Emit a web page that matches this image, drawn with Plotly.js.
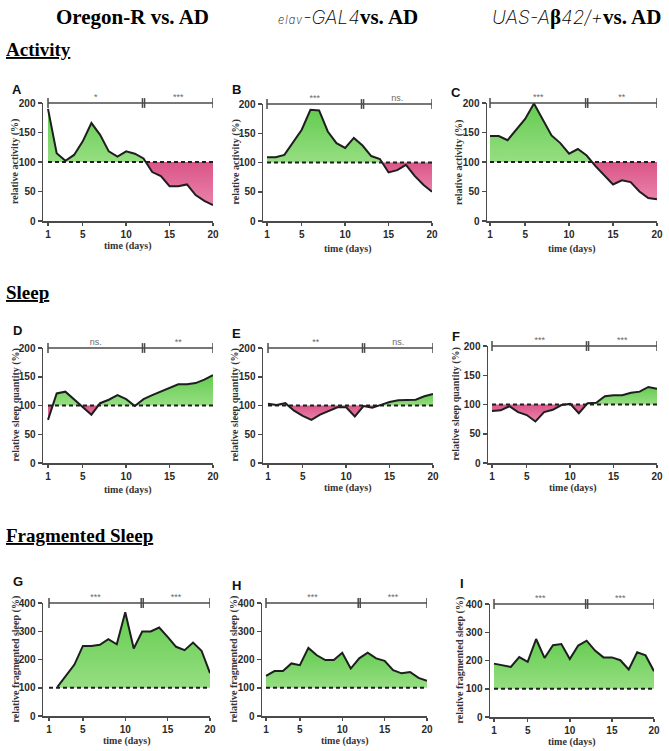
<!DOCTYPE html>
<html>
<head>
<meta charset="utf-8">
<script src="https://cdn.plot.ly/plotly-3.0.1.min.js"></script>
<style>
  body { margin: 0; background: #fff; }
  #fig { width: 669px; height: 751px; }
</style>
</head>
<body>
<div id="fig"></div>
<script>
// days of recording
var days = [1, 2, 3, 4, 5, 6, 7, 8, 9, 10, 11, 12, 13, 14, 15, 16, 17, 18, 19, 20];

// relative activity (%) vs. AD
var actOregon = [190, 115, 102, 112, 135, 166, 146, 118, 109, 118, 114, 106, 83, 76, 59, 59, 62, 44, 34, 27];
var actElav   = [109, 109, 113, 134, 156, 190, 189, 153, 133, 125, 142, 129, 111, 106, 83, 87, 96, 77, 62, 50];
var actUas    = [144, 144, 137, 156, 173, 199, 172, 145, 132, 114, 122, 111, 93, 77, 62, 69, 66, 50, 39, 37];

// relative sleep quantity (%)
var sleepOregon = [75, 121, 124, 111, 97, 84, 104, 110, 118, 111, 99, 111, 118, 124, 130, 137, 137, 139, 145, 153];
var sleepElav   = [103, 101, 104, 91, 82, 75, 84, 90, 97, 97, 81, 99, 96, 101, 106, 109, 110, 110, 116, 120];
var sleepUas    = [89, 90, 97, 87, 82, 71, 87, 91, 99, 101, 85, 102, 103, 114, 116, 116, 120, 122, 130, 127];

// relative fragmented sleep (%), no point on day 1 for Oregon-R
var fragOregon = [null, 103, 142, 182, 248, 248, 252, 272, 254, 367, 239, 299, 299, 313, 280, 245, 233, 260, 231, 152];
var fragElav   = [142, 159, 159, 186, 180, 241, 215, 198, 198, 224, 168, 204, 224, 204, 195, 162, 151, 156, 135, 125];
var fragUas    = [189, 183, 177, 212, 195, 276, 209, 254, 258, 205, 253, 270, 235, 211, 211, 201, 168, 229, 218, 162];

// significance, first and second period
var periods = [[1, 12], [12, 20]];
var sigA = ['*', '***'];
var sigB = ['***', 'ns.'];
var sigC = ['***', '**'];
var sigD = ['ns.', '**'];
var sigE = ['**', 'ns.'];
var sigF = ['***', '***'];
var sigG = ['***', '***'];
var sigH = ['***', '***'];
var sigI = ['***', '***'];

var BASE = 100;
var W = 669, H = 751;
function px(x) { return x / W; }
function py(y) { return 1 - y / H; }
function ax(n) { return n === 1 ? '' : String(n); }

// box: y-axis px, day 1 px, day 20 px, top px, bottom px
var panels = [
  {letter: 'A', vals: actOregon, sig: sigA, ymax: 200, ytitle: 'relative activity (%)', box: [43, 48, 213, 103, 221], lab: [17, 89], tx: 25, ty: 28},
  {letter: 'B', vals: actElav, sig: sigB, ymax: 200, ytitle: 'relative activity (%)', box: [263, 267, 432, 104, 221], lab: [236, 89], tx: 28, ty: 28},
  {letter: 'C', vals: actUas, sig: sigC, ymax: 200, ytitle: 'relative activity (%)', box: [487, 490, 657, 103, 221], lab: [456, 92], tx: 28, ty: 28},
  {letter: 'D', vals: sleepOregon, sig: sigD, ymax: 200, ytitle: 'relative sleep quantity (%)', box: [43, 48, 213, 348, 463], lab: [17, 330], tx: 27, ty: 28},
  {letter: 'E', vals: sleepElav, sig: sigE, ymax: 200, ytitle: 'relative sleep quantity (%)', box: [263, 268, 433, 348, 463], lab: [236, 333], tx: 25, ty: 29},
  {letter: 'F', vals: sleepUas, sig: sigF, ymax: 200, ytitle: 'relative sleep quantity (%)', box: [488, 492, 657, 346, 463], lab: [456, 336], tx: 25, ty: 32},
  {letter: 'G', vals: fragOregon, sig: sigG, ymax: 400, ytitle: 'relative fragmented sleep (%)', box: [43, 49, 210, 603, 716], lab: [18, 581], tx: 25, ty: 28},
  {letter: 'H', vals: fragElav, sig: sigH, ymax: 400, ytitle: 'relative fragmented sleep (%)', box: [262, 266, 427, 603, 716], lab: [236, 585], tx: 25, ty: 29},
  {letter: 'I', vals: fragUas, sig: sigI, ymax: 400, ytitle: 'relative fragmented sleep (%)', box: [490, 494, 654, 604, 717], lab: [462, 583], tx: 25, ty: 31}
];

// add the crossing points with the 100 % line so fills switch colour there
function splitAtBase(xs, ys, base) {
  var ox = [], oy = [];
  var pts = [];
  xs.forEach(function (x, k) { if (ys[k] !== null) pts.push([x, ys[k]]); });
  for (var k = 0; k < pts.length; k++) {
    ox.push(pts[k][0]); oy.push(pts[k][1]);
    if (k < pts.length - 1) {
      var a = pts[k][1] - base, b = pts[k + 1][1] - base;
      if (a * b < 0) {
        var t = a / (a - b);
        ox.push(pts[k][0] + t * (pts[k + 1][0] - pts[k][0]));
        oy.push(base);
      }
    }
  }
  return {x: ox, y: oy};
}

var tickFont = {family: 'Liberation Sans, Arial', size: 10, color: '#2a2a2a', weight: 'bold'};
var lineCol = '#4a4a4a';

var data = [];
var layout = {
  width: W, height: H,
  margin: {l: 0, r: 0, t: 0, b: 0},
  showlegend: false,
  paper_bgcolor: '#fff',
  plot_bgcolor: 'rgba(0,0,0,0)',
  annotations: [],
  shapes: []
};

panels.forEach(function (p, i) {
  var n = i + 1, nb = i + 10;
  var xa = 'x' + ax(n), ya = 'y' + ax(n), yb = 'y' + nb;
  var b = p.box;
  var ppd = (b[2] - b[1]) / 19;

  layout['xaxis' + ax(n)] = {
    domain: [px(b[0]), px(b[2])],
    range: [1 - (b[1] - b[0]) / ppd, 20],
    anchor: ya,
    tickvals: [1, 5, 10, 15, 20],
    ticks: 'outside', ticklen: 3, tickwidth: 1.5, tickcolor: lineCol,
    showline: true, linewidth: 1.5, linecolor: lineCol,
    showgrid: false, zeroline: false,
    tickfont: tickFont
  };
  var yt = p.ymax === 200 ? [0, 50, 100, 150, 200] : [0, 100, 200, 300, 400];
  layout['yaxis' + ax(n)] = {
    domain: [py(b[4]), py(b[3])],
    range: [0, p.ymax],
    anchor: xa,
    tickvals: yt,
    ticks: 'outside', ticklen: 4, tickwidth: 1.5, tickcolor: lineCol,
    showline: true, linewidth: 1.5, linecolor: lineCol,
    showgrid: false, zeroline: false,
    tickfont: tickFont
  };
  // strip above the panel for the significance bracket (units = px)
  layout['yaxis' + nb] = {
    domain: [py(b[3] + 5), py(b[3] - 15)],
    range: [-5, 15],
    anchor: xa,
    visible: false
  };

  var s = splitAtBase(days, p.vals, BASE);
  var baseY = s.x.map(function () { return BASE; });
  var up = s.y.map(function (v) { return Math.max(v, BASE); });
  var dn = s.y.map(function (v) { return Math.min(v, BASE); });
  var vmax = Math.max.apply(null, up), vmin = Math.min.apply(null, dn);

  data.push({x: s.x, y: baseY, xaxis: xa, yaxis: ya, mode: 'lines', line: {width: 0}, hoverinfo: 'skip'});
  data.push({x: s.x, y: up, xaxis: xa, yaxis: ya, mode: 'lines', line: {width: 0}, fill: 'tonexty',
    fillcolor: 'rgb(120,210,100)',
    fillgradient: {type: 'vertical', start: BASE, stop: Math.max(vmax, BASE + 1),
      colorscale: [[0, 'rgb(150,222,130)'], [1, 'rgb(100,204,80)']]},
    hoverinfo: 'skip'});
  data.push({x: s.x, y: baseY, xaxis: xa, yaxis: ya, mode: 'lines', line: {width: 0}, hoverinfo: 'skip'});
  data.push({x: s.x, y: dn, xaxis: xa, yaxis: ya, mode: 'lines', line: {width: 0}, fill: 'tonexty',
    fillcolor: 'rgb(225,100,150)',
    fillgradient: {type: 'vertical', start: Math.min(vmin, BASE - 1), stop: BASE,
      colorscale: [[0, 'rgb(234,130,172)'], [1, 'rgb(218,85,135)']]},
    hoverinfo: 'skip'});

  // data line
  data.push({x: days, y: p.vals, xaxis: xa, yaxis: ya, mode: 'lines',
    line: {color: '#1e1e1e', width: 2}, connectgaps: false});
  // 100 % reference
  data.push({x: [days[0], days[days.length - 1]], y: [BASE, BASE], xaxis: xa, yaxis: ya, mode: 'lines',
    line: {color: '#1e1e1e', width: 2, dash: '4px,3px'}});

  // significance bracket
  var bx = [], capX = [], labX = [];
  periods.forEach(function (pr, k) {
    bx.push(pr[0], pr[1]);
    capX.push(pr[0] + (k > 0 ? 0.12 : 0));
    capX.push(pr[1] - (k < periods.length - 1 ? 0.12 : 0));
    labX.push((pr[0] + pr[1]) / 2);
  });
  data.push({x: [bx[0], bx[bx.length - 1]], y: [0, 0], xaxis: xa, yaxis: yb, mode: 'lines',
    line: {color: lineCol, width: 1.5}});
  data.push({x: capX, y: capX.map(function () { return 0; }), xaxis: xa, yaxis: yb, mode: 'markers',
    marker: {symbol: 'line-ns', size: 7, line: {color: lineCol, width: 1.5}}});
  data.push({x: labX, y: labX.map(function () { return 5; }), xaxis: xa, yaxis: yb, mode: 'text',
    text: p.sig, textposition: 'middle center',
    textfont: {family: 'Liberation Sans, Arial', size: 9, color: '#6a6a6a'}});

  // panel letter and axis titles
  layout.annotations.push({xref: 'paper', yref: 'paper', x: px(p.lab[0]), y: py(p.lab[1]),
    text: p.letter, showarrow: false, xanchor: 'center', yanchor: 'middle',
    font: {family: 'Liberation Sans, Arial', size: 13, color: '#111', weight: 'bold'}});
  layout.annotations.push({xref: xa + ' domain', yref: ya + ' domain', x: 0.5, y: 0, yshift: -p.tx,
    text: 'time (days)', showarrow: false, xanchor: 'center', yanchor: 'middle',
    font: {family: 'Liberation Serif, Times New Roman', size: 10, color: '#333', weight: 'bold'}});
  layout.annotations.push({xref: xa + ' domain', yref: ya + ' domain', x: 0, y: 0.5, xshift: -p.ty,
    text: p.ytitle, textangle: -90, showarrow: false, xanchor: 'center', yanchor: 'middle',
    font: {family: 'Liberation Serif, Times New Roman', size: 10, color: '#333', weight: 'bold'}});
});

// column headers
var serif = 'Liberation Serif, Times New Roman';
var thin = 'font-family:Inter;font-style:italic;font-weight:200';
var heads = [
  [132, '<b>Oregon-R vs. AD</b>'],
  [348, '<span style="' + thin + ';font-size:11px;letter-spacing:1px">elav</span><span style="' + thin + ';font-size:19px">-GAL4</span><b>vs. AD</b>'],
  [576, '<span style="' + thin + ';font-size:19px">UAS-A</span><b>β</b><span style="' + thin + ';font-size:19px">42/+</span><b>vs. AD</b>']
];
heads.forEach(function (h) {
  layout.annotations.push({xref: 'paper', yref: 'paper', x: px(h[0]), y: py(17), showarrow: false,
    xanchor: 'center', yanchor: 'middle', text: h[1], font: {family: serif, size: 21, color: '#000'}});
});

// section titles
[['Activity', 50], ['Sleep', 292], ['Fragmented Sleep', 535]].forEach(function (t) {
  layout.annotations.push({xref: 'paper', yref: 'paper', x: px(4), y: py(t[1]), showarrow: false,
    xanchor: 'left', yanchor: 'middle', text: '<b><u>' + t[0] + '</u></b>',
    font: {family: serif, size: 19, color: '#000'}});
});

Plotly.newPlot('fig', data, layout, {displayModeBar: false, staticPlot: true});
</script>
</body>
</html>
